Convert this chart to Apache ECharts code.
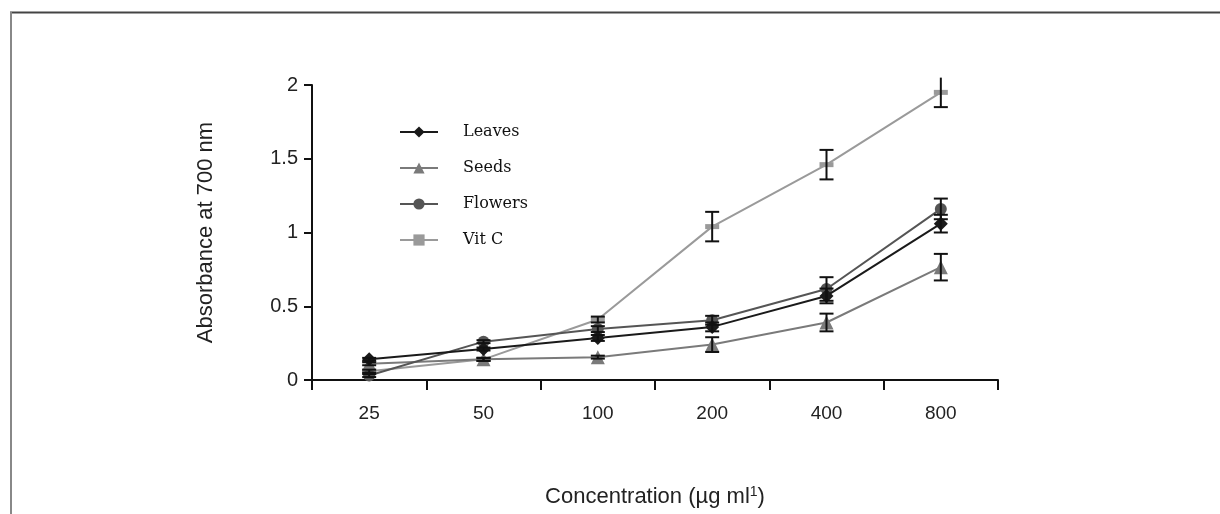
<!DOCTYPE html>
<html>
<head>
<meta charset="utf-8">
<script src="https://cdn.jsdelivr.net/npm/echarts@6/dist/echarts.min.js"></script>
<style>html,body{margin:0;padding:0;background:#fff;}#c{width:1220px;height:514px;}</style>
</head>
<body>
<div id="c"></div>
<script>
const categories = ['25', '50', '100', '200', '400', '800'];
const leaves  = [0.14, 0.21, 0.285, 0.36, 0.57, 1.06];
const seeds   = [0.11, 0.14, 0.155, 0.24, 0.39, 0.765];
const flowers = [0.03, 0.26, 0.345, 0.405, 0.617, 1.16];
const vitC    = [0.06, 0.14, 0.41, 1.04, 1.46, 1.95];
const leavesErr  = [0.01, 0.01, 0.02, 0.03, 0.05, 0.06];
const seedsErr   = [0.01, 0.01, 0.01, 0.05, 0.06, 0.09];
const flowersErr = [0.01, 0.01, 0.02, 0.03, 0.08, 0.07];
const vitCErr    = [0.01, 0.01, 0.02, 0.10, 0.10, 0.10];
const yTicks = { min: 0, max: 2, interval: 0.5 };

const chart = echarts.init(document.getElementById('c'), null, { renderer: 'canvas' });

function errData(vals, errs) {
  return vals.map((v, i) => [i, v - errs[i], v + errs[i]]);
}
function errSeries(name, vals, errs) {
  return {
    type: 'custom',
    name: name + ' err',
    z: 5,
    silent: true,
    clip: false,
    data: errData(vals, errs),
    renderItem: function (params, api) {
      const x = api.value(0);
      const lo = api.coord([x, api.value(1)]);
      const hi = api.coord([x, api.value(2)]);
      const top = api.coord([x, yTicks.max]);
      const hw = 7;
      const st = { stroke: '#111', lineWidth: 2 };
      const children = [
        { type: 'line', shape: { x1: lo[0], y1: lo[1], x2: hi[0], y2: hi[1] }, style: st },
        { type: 'line', shape: { x1: lo[0] - hw, y1: lo[1], x2: lo[0] + hw, y2: lo[1] }, style: st }
      ];
      if (hi[1] >= top[1]) {
        children.push({ type: 'line', shape: { x1: hi[0] - hw, y1: hi[1], x2: hi[0] + hw, y2: hi[1] }, style: st });
      }
      return { type: 'group', children: children };
    }
  };
}

const serifFont = '"DejaVu Serif", "Liberation Serif", serif';
const sansFont = '"Liberation Sans", Arial, sans-serif';

chart.setOption({
  animation: false,
  backgroundColor: '#fff',
  grid: { left: 312, right: 222, top: 85, bottom: 134, containLabel: false },
  legend: {
    orient: 'vertical',
    left: 394,
    top: 119,
    itemWidth: 38,
    itemHeight: 14,
    itemGap: 20,
    textStyle: { fontFamily: serifFont, fontSize: 16, color: '#111', padding: [0, 0, 0, 20] },
    data: ['Leaves', 'Seeds', 'Flowers', 'Vit C']
  },
  graphic: [
    { type: 'line', shape: { x1: 10, y1: 12.5, x2: 1220, y2: 12.5 }, style: { stroke: '#444', lineWidth: 2 }, silent: true },
    { type: 'line', shape: { x1: 11, y1: 12, x2: 11, y2: 514 }, style: { stroke: '#888', lineWidth: 2 }, silent: true }
  ],
  xAxis: {
    type: 'category',
    data: categories,
    boundaryGap: true,
    axisLine: { lineStyle: { color: '#111', width: 2 } },
    axisTick: { show: true, length: 10, lineStyle: { color: '#111', width: 2 } },
    axisLabel: { fontFamily: sansFont, fontSize: 19, color: '#222', margin: 24 },
    name: 'Concentration (µg ml{sup|1})',
    nameLocation: 'middle',
    nameGap: 105,
    nameTextStyle: {
      fontFamily: sansFont, fontSize: 22, color: '#222',
      rich: { sup: { fontFamily: sansFont, fontSize: 14, color: '#222', verticalAlign: 'top', padding: [0, 0, 10, 0] } }
    }
  },
  yAxis: {
    type: 'value',
    min: yTicks.min,
    max: yTicks.max,
    interval: yTicks.interval,
    splitLine: { show: false },
    axisLine: { show: true, lineStyle: { color: '#111', width: 2 } },
    axisTick: { show: true, length: 8, lineStyle: { color: '#111', width: 2 } },
    axisLabel: { fontFamily: sansFont, fontSize: 20, color: '#222', margin: 14 },
    name: 'Absorbance at 700 nm',
    nameLocation: 'middle',
    nameGap: 95,
    nameTextStyle: { fontFamily: sansFont, fontSize: 22, color: '#222' }
  },
  series: [
    {
      name: 'Leaves', type: 'line', data: leaves, z: 4,
      symbol: 'diamond', symbolSize: 14,
      lineStyle: { color: '#1a1a1a', width: 2 },
      itemStyle: { color: '#1a1a1a' }
    },
    {
      name: 'Seeds', type: 'line', data: seeds, z: 3,
      symbol: 'triangle', symbolSize: 14,
      lineStyle: { color: '#7a7a7a', width: 2 },
      itemStyle: { color: '#7a7a7a' }
    },
    {
      name: 'Flowers', type: 'line', data: flowers, z: 3,
      symbol: 'circle', symbolSize: 12,
      lineStyle: { color: '#555', width: 2 },
      itemStyle: { color: '#555' }
    },
    {
      name: 'Vit C', type: 'line', data: vitC, z: 2,
      symbol: 'rect', symbolSize: [14, 5],
      lineStyle: { color: '#9a9a9a', width: 2 },
      itemStyle: { color: '#9a9a9a' }
    },
    errSeries('Leaves', leaves, leavesErr),
    errSeries('Seeds', seeds, seedsErr),
    errSeries('Flowers', flowers, flowersErr),
    errSeries('Vit C', vitC, vitCErr)
  ]
});
</script>
</body>
</html>
